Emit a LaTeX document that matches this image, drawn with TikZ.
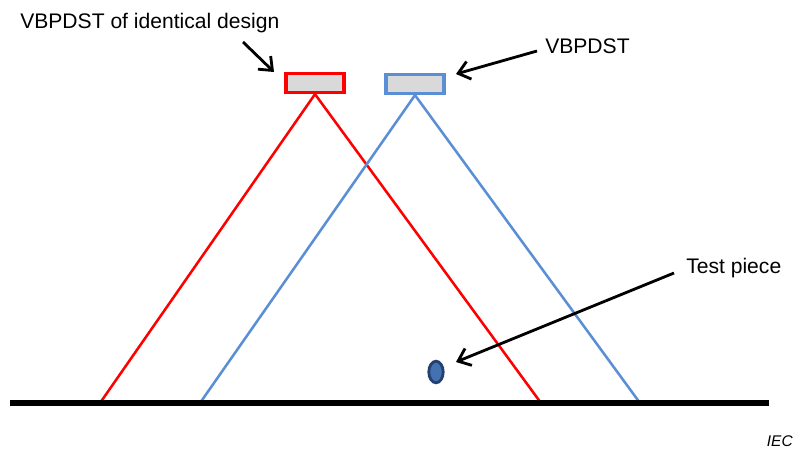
\documentclass[tikz,border=0pt]{standalone}
\usepackage{fontspec}
\setmainfont{Liberation Sans}
\usetikzlibrary{arrows.meta,positioning,shapes.geometric}
\definecolor{beamred}{HTML}{FF0000}
\definecolor{beamblue}{HTML}{5B8FD5}
\definecolor{boxgray}{HTML}{D9D9D9}
\definecolor{piecefill}{HTML}{4472B0}
\definecolor{pieceedge}{HTML}{23406E}

\tikzset{
  sensorbox/.style={draw, line width=2.2pt, fill=boxgray,
    minimum width=1.45cm, minimum height=0.48cm, inner sep=0pt},
  beam/.style={line width=1.8pt},
  callout/.style={line width=2pt, -{Straight Barb[length=8pt,width=13pt,line width=2pt]}},
  lbl/.style={font=\fontsize{15}{17}\selectfont, inner sep=0pt}
}

\begin{document}
\begin{tikzpicture}[x=0.025cm, y=-0.025cm]
  \useasboundingbox (0,0) rectangle (796,448);

  % sensors
  \node[sensorbox, draw=beamred] (ref) at (315,83) {};
  \node[sensorbox, draw=beamblue] (dut) at (415,84) {};

  % ground
  \coordinate (g0) at (10,403);
  \coordinate (g1) at (769,403);
  \coordinate (rl) at (100,403);
  \coordinate (rr) at (541,403);
  \coordinate (bl) at (200,403);
  \coordinate (br) at (640,403);

  % beams
  \draw[beam, beamred] (ref.south) -- (rl);
  \draw[beam, beamred] (ref.south) -- (rr);
  \draw[beam, beamblue] (dut.south) -- (bl);
  \draw[beam, beamblue] (dut.south) -- (br);

  \draw[line width=3.6pt] (g0) -- (g1);

  % test piece
  \node[ellipse, draw=pieceedge, fill=piecefill, line width=2pt,
    minimum width=0.36cm, minimum height=0.54cm, inner sep=0pt] (piece) at (436,372) {};

  % labels
  \node[lbl, anchor=west] (reflbl) at (20,23) {VBPDST of identical design};
  \node[lbl, anchor=west] (dutlbl) at (545,46) {VBPDST};
  \node[lbl, anchor=west] (piecelbl) at (686,268) {Test piece};
  \node[font=\fontsize{11}{13}\selectfont\itshape, anchor=east, inner sep=0pt] (iec) at (793,441) {IEC};

  \coordinate (a0) at (243,42);
  \coordinate (a1) at (274,72);
  \coordinate (b0) at (537,51);
  \coordinate (b1) at (456,74);
  \coordinate (c0) at (674,273);
  \coordinate (c1) at (456,362);
  \draw[callout] (a0) -- (a1);
  \draw[callout] (b0) -- (b1);
  \draw[callout] (c0) -- (c1);
\end{tikzpicture}
\end{document}
